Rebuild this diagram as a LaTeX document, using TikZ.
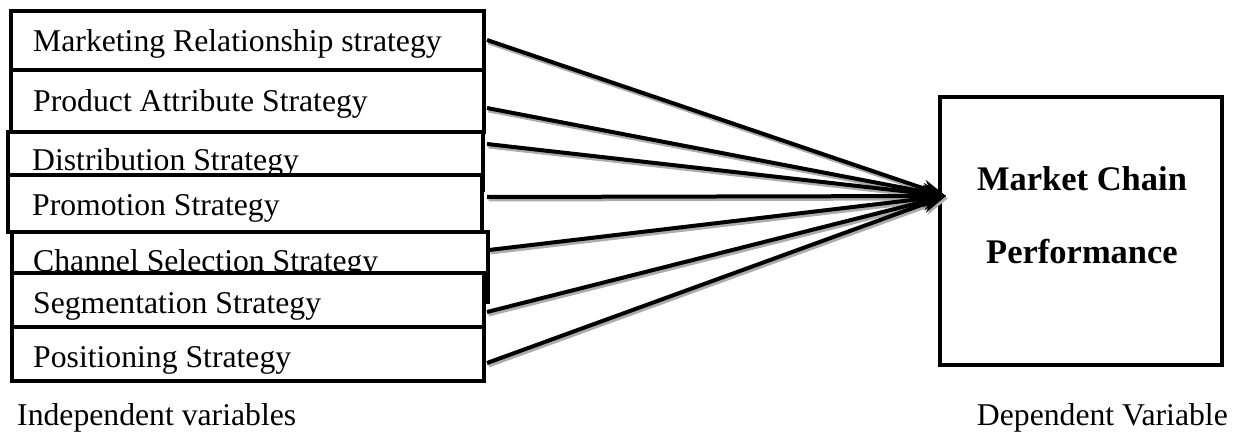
\documentclass[tikz,border=0pt]{standalone}
\usepackage{fontspec}
\setmainfont{Liberation Serif}
\usetikzlibrary{arrows.meta}
\tikzset{
  box/.style={draw, line width=3.5pt, fill=white, inner sep=0pt, outer sep=0pt, anchor=north west},
  lbl/.style={anchor=base west, inner sep=0pt, font=\fontsize{31.7}{38}\selectfont},
  bold/.style={anchor=base, inner sep=0pt, font=\fontsize{34.5}{40}\selectfont\bfseries},
  link/.style={line width=4pt, -{Stealth[length=24pt,width=17pt]}},
  shade/.style={line width=4pt, gray!65, -{Stealth[length=24pt,width=17pt]}},
}
\begin{document}
\begin{tikzpicture}[x=1pt,y=-1pt]
\useasboundingbox (0,0) rectangle (1240,433);
% independent boxes
\node[box, minimum width=473pt, minimum height=59pt] (b1) at (11,11) {};
\node[lbl] (t1) at (33,52) {Marketing Relationship strategy};
\node[box, minimum width=473pt, minimum height=62pt] (b2) at (11,70) {};
\node[lbl] (t2) at (33,112) {Product Attribute Strategy};
\node[box, minimum width=475pt, minimum height=58pt] (b3) at (8,132) {};
\node[lbl] (t3) at (32,171) {Distribution Strategy};
\node[box, minimum width=474pt, minimum height=57pt] (b4) at (8,175) {};
\node[lbl] (t4) at (32,215) {Promotion Strategy};
\node[box, minimum width=476pt, minimum height=70pt] (b5) at (12,232) {};
\node[lbl] (t5) at (33,271) {Channel Selection Strategy};
\node[box, minimum width=472pt, minimum height=54pt] (b6) at (12,273) {};
\node[lbl] (t6) at (33,313) {Segmentation Strategy};
\node[box, minimum width=472pt, minimum height=54pt] (b7) at (12,327) {};
\node[lbl] (t7) at (33,367) {Positioning Strategy};
% dependent box
\node[box, minimum width=282pt, minimum height=268pt] (dep) at (940,97) {};
\node[bold] (m1) at (1082,190) {Market Chain};
\node[bold] (m2) at (1082,263) {Performance};
% captions
\node[lbl] (ind) at (17,425) {Independent variables};
\node[lbl, anchor=base east] (dv) at (1228,425) {Dependent Variable};
% connectors
\coordinate (T) at (946,196);
\coordinate (s1) at (487,40);
\coordinate (s2) at (487,108);
\coordinate (s3) at (487,144);
\coordinate (s4) at (487,197);
\coordinate (s5) at (489,250);
\coordinate (s6) at (487,312);
\coordinate (s7) at (487,363);
\foreach \s in {s1,s2,s3,s4,s5,s6,s7}{
  \draw[shade, transform canvas={shift={(1.5pt,-2.5pt)}}] (\s) -- (T);
}
\foreach \s in {s1,s2,s3,s4,s5,s6,s7}{
  \draw[link] (\s) -- (T);
}
\end{tikzpicture}
\end{document}
